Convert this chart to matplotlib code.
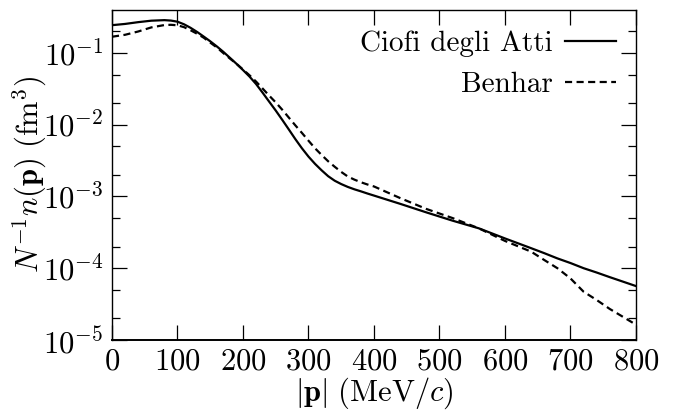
import numpy as np
import matplotlib
matplotlib.use('Agg')
import matplotlib.pyplot as plt
from matplotlib.ticker import LogLocator, NullFormatter, NullLocator

plt.rcParams['font.family'] = 'serif'
plt.rcParams['font.serif'] = ['cmr10']
plt.rcParams['mathtext.fontset'] = 'cm'
plt.rcParams['axes.formatter.use_mathtext'] = True
plt.rcParams['axes.unicode_minus'] = False

# momentum grid (MeV/c)
p = [0, 20, 40, 60, 80, 90, 100, 110, 120, 130, 140, 150, 160, 170, 180,
     190, 200, 210, 220, 230, 240, 250, 260, 270, 280, 290, 300, 310, 320,
     330, 340, 350, 360, 370, 380, 390, 400, 440, 480, 520, 560, 600, 640,
     660, 680, 700, 720, 740, 760, 780, 800]

# Ciofi degli Atti
n_ciofi = [0.245, 0.255, 0.270, 0.283, 0.288, 0.284, 0.274, 0.252, 0.225,
           0.197, 0.170, 0.146, 0.124, 0.104, 0.086, 0.071, 0.058, 0.047,
           0.037, 0.028, 0.021, 0.0158, 0.0117, 0.0086, 0.0063, 0.0047,
           0.0036, 0.00285, 0.00232, 0.00192, 0.00166, 0.00149, 0.00136,
           0.00126, 0.00118, 0.0011, 0.00103, 0.00079, 0.0006, 0.00046,
           0.00036, 0.00026, 0.00019, 0.000162, 0.000137, 0.000118, 0.0001,
           0.000087, 0.000075, 0.000065, 0.0000563]

# Benhar
n_benhar = [0.169, 0.180, 0.200, 0.228, 0.246, 0.248, 0.244, 0.230, 0.208,
            0.186, 0.164, 0.140, 0.120, 0.100, 0.084, 0.071, 0.059, 0.049,
            0.040, 0.032, 0.0255, 0.0205, 0.0162, 0.0126, 0.0098, 0.0077,
            0.0060, 0.0047, 0.0038, 0.0031, 0.0026, 0.0022, 0.0019, 0.00172,
            0.00158, 0.00147, 0.00138, 0.00095, 0.00067, 0.0005, 0.00036,
            0.00024, 0.00017, 0.00013, 0.0001, 0.000072, 0.000047, 0.000036,
            0.000027, 0.000021, 0.0000163]

fig = plt.figure(figsize=(6.73, 4.13), dpi=100)
ax = fig.add_axes([0.1664, 0.177, 0.7786, 0.799])

ax.plot(p, n_ciofi, color='black', lw=1.6, label='Ciofi degli Atti')
ax.plot(p, n_benhar, color='black', lw=1.6, ls=(0, (3.2, 2.0)), label='Benhar')

ax.set_yscale('log')
ax.set_xlim(0, 800)
ax.set_ylim(1e-5, 0.4)
ax.set_xticks(range(0, 801, 100))
ax.yaxis.set_major_locator(LogLocator(base=10, numticks=10))
ax.yaxis.set_minor_locator(LogLocator(base=10, subs=(2.0, 5.0), numticks=10))
ax.yaxis.set_minor_formatter(NullFormatter())
ax.xaxis.set_minor_locator(NullLocator())

ax.tick_params(which='both', direction='in', top=True, right=True,
               labelsize=22, pad=6)
ax.tick_params(which='major', length=11, width=0.9)
ax.tick_params(which='minor', length=6, width=0.9)
for s in ax.spines.values():
    s.set_linewidth(1.0)
ax.spines['bottom'].set_linewidth(1.4)

ax.set_xlabel(r'$|\mathbf{p}|\ (\mathrm{MeV}/c)$', fontsize=22, labelpad=0)
ax.set_ylabel(r'$N^{-1}n(\mathbf{p})\ (\mathrm{fm}^3)$', fontsize=22, labelpad=-4)

ax.legend(loc='upper right', frameon=False, markerfirst=False, fontsize=21,
          handlelength=1.75, handletextpad=0.4, labelspacing=0.5,
          borderaxespad=0.3)

fig.savefig('out.png', dpi=100)
